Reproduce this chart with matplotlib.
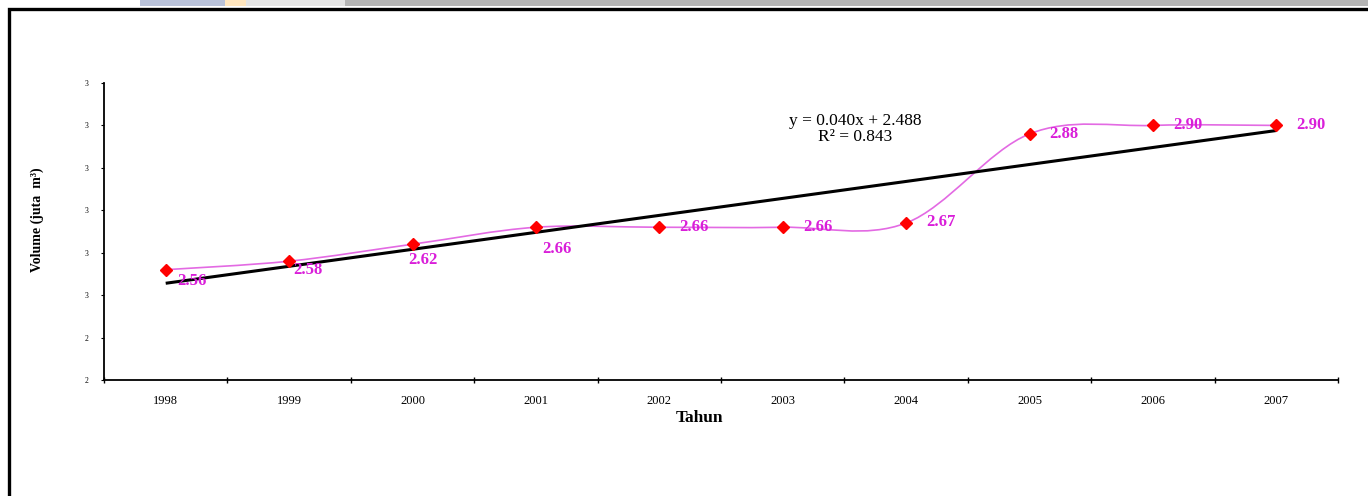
import numpy as np
import matplotlib
matplotlib.use("Agg")
import matplotlib.pyplot as plt
from matplotlib.path import Path
from matplotlib.patches import PathPatch, Rectangle

# Annual volume series
years = ["1998", "1999", "2000", "2001", "2002", "2003", "2004", "2005", "2006", "2007"]
volumes = [2.56, 2.58, 2.62, 2.66, 2.66, 2.66, 2.67, 2.88, 2.90, 2.90]

# Y axis ticks (labels shown rounded to whole numbers)
y_ticks = [2.3, 2.4, 2.5, 2.6, 2.7, 2.8, 2.9, 3.0]
y_tick_labels = ["2", "2", "3", "3", "3", "3", "3", "3"]

# Linear trend (x = 1 .. n)
trend_slope = 0.040
trend_intercept = 2.488
trend_r2 = 0.843

# Data-label offsets in points (dx, dy)
label_offsets = [(8, -8), (3, -6), (-3, -11), (4.5, -16), (14.5, 0),
                 (14.5, 0), (14.5, 0.7), (14.5, 0), (14.5, 0), (14.5, 0)]

W, H = 1368, 496
SERIF = ["Liberation Serif", "DejaVu Serif"]
plt.rcParams["font.family"] = SERIF

fig = plt.figure(figsize=(W / 100, H / 100), dpi=100)
fig.patch.set_facecolor("white")

ax = fig.add_axes([104 / W, 1 - 380 / H, (1338 - 104) / W, (380 - 83) / H])
x = np.arange(len(years))

# Smoothed series line: cubic Bezier segments through the data points
pts = np.column_stack([x, volumes]).astype(float)
n = len(pts)
verts = [tuple(pts[0])]
codes = [Path.MOVETO]
for i in range(n - 1):
    p0, p1 = pts[i], pts[i + 1]
    pm = pts[i - 1] if i > 0 else pts[i]
    p2 = pts[i + 2] if i + 2 < n else pts[i + 1]
    c1 = p0 + (p1 - pm) / 6.0
    c2 = p1 - (p2 - p0) / 6.0
    verts += [tuple(c1), tuple(c2), tuple(p1)]
    codes += [Path.CURVE4] * 3
ax.add_patch(PathPatch(Path(verts, codes), facecolor="none",
                       edgecolor="#E36AE3", lw=1.2, zorder=2))

# Trend line
tx = np.array([1, n])
ty = trend_slope * tx + trend_intercept
ax.plot(tx - 1, ty, color="black", lw=2.2, zorder=3, solid_capstyle="butt")

# Markers
ax.plot(x, volumes, linestyle="none", marker="D", ms=6.5,
        color="#FF0000", mec="#FF0000", zorder=4)

# Data labels
for xi, v, (dx, dy) in zip(x, volumes, label_offsets):
    ax.annotate(f"{v:.2f}", (xi, v), xytext=(dx, dy), textcoords="offset points",
                ha="left", va="center", fontsize=12, fontweight="bold",
                color="#D91ED9", zorder=5)

# Trend equation
ax.text(855 / W, 1 - 129 / H,
        f"y = {trend_slope:.3f}x + {trend_intercept:.3f}\nR\u00b2 = {trend_r2:.3f}",
        transform=fig.transFigure, ha="center", va="center",
        fontsize=12.5, linespacing=1.0, color="black")

# Axes styling
ax.set_xlim(-0.5, n - 0.5)
ax.set_ylim(y_ticks[0], y_ticks[-1])
for s in ("top", "right"):
    ax.spines[s].set_visible(False)
for s in ("left", "bottom"):
    ax.spines[s].set_linewidth(1.3)
    ax.spines[s].set_color("black")

ax.set_xticks(x)
ax.set_xticklabels(years, fontsize=9)
ax.set_xticks(np.arange(-0.5, n, 1.0), minor=True)
ax.tick_params(axis="x", which="major", length=0, pad=11)
ax.tick_params(axis="x", which="minor", length=4, width=1, direction="inout")

ax.set_yticks(y_ticks)
ax.set_yticklabels(y_tick_labels, fontsize=5.5)
ax.tick_params(axis="y", length=2.5, width=0.8, direction="out", pad=9)

fig.text(699 / W, 1 - 418 / H, "Tahun", ha="center", va="center",
         fontsize=12.5, fontweight="bold")
fig.text(37.5 / W, 1 - 220 / H, "Volume (juta  m\u00b3)", rotation=90,
         ha="center", va="center", fontsize=10, fontweight="bold")

# Outer frame
fig.add_artist(Rectangle((9 / W, -0.1), 1.2, (H - 9) / H + 0.1,
                         transform=fig.transFigure, fill=False,
                         edgecolor="black", lw=2.4, clip_on=False))

# Header strip
for x0, x1, col in [(140, 225, "#B9C2D9"), (225, 246, "#FFE6BF"),
                    (246, 345, "#E4E4E4"), (345, 1368, "#B5B5B5")]:
    fig.add_artist(Rectangle((x0 / W, 1 - 6 / H), (x1 - x0) / W, 6 / H,
                             transform=fig.transFigure, color=col, lw=0))

fig.savefig("out.png", dpi=100)
